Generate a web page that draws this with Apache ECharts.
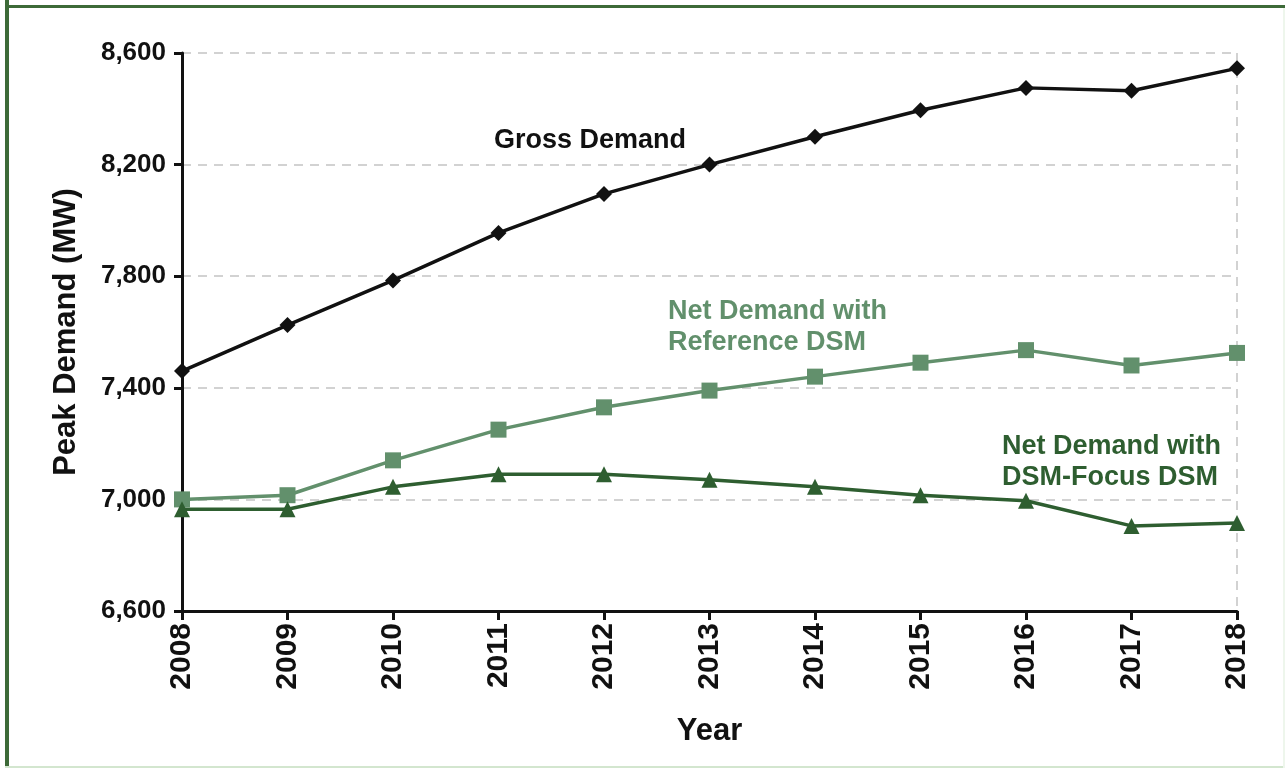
<!DOCTYPE html>
<html>
<head>
<meta charset="utf-8">
<title>Peak Demand Forecast</title>
<script src="https://cdn.jsdelivr.net/npm/echarts@6/dist/echarts.min.js"></script>
<style>
  html, body { margin: 0; padding: 0; background: #ffffff; }
  #chart { width: 1285px; height: 768px; }
</style>
</head>
<body>
<div id="chart"></div>
<script>
// Peak demand forecast, MW
const years = ['2008', '2009', '2010', '2011', '2012', '2013', '2014', '2015', '2016', '2017', '2018'];
const grossDemand = [7460, 7625, 7785, 7955, 8095, 8200, 8300, 8395, 8475, 8465, 8545];
const netReferenceDSM = [7000, 7015, 7140, 7250, 7330, 7390, 7440, 7490, 7535, 7480, 7525];
const netFocusDSM = [6965, 6965, 7045, 7090, 7090, 7070, 7045, 7015, 6995, 6905, 6915];

const yTicks = [6600, 7000, 7400, 7800, 8200, 8600];

const FONT = '"Liberation Sans", Arial, Helvetica, sans-serif';
const BLACK = '#111111';
const REF_GREEN = '#62906c';
const FOCUS_GREEN = '#2e5e30';
const FRAME_GREEN = '#3d6a38';

const chart = echarts.init(document.getElementById('chart'), null, { renderer: 'canvas' });

function lineSeries(name, data, color, symbol, size) {
  return {
    name: name,
    type: 'line',
    data: data,
    symbol: symbol,
    symbolSize: size,
    showAllSymbol: true,
    lineStyle: { color: color, width: 3.5 },
    itemStyle: { color: color, borderWidth: 0 },
    emphasis: { disabled: true },
    animation: false,
    z: 3
  };
}

function annotation(text, left, top, color) {
  return {
    type: 'text',
    left: left,
    top: top,
    z: 10,
    style: {
      text: text,
      fill: color,
      font: 'bold 27px ' + FONT,
      lineHeight: 31
    }
  };
}

const option = {
  backgroundColor: '#ffffff',
  animation: false,
  grid: { left: 182, right: 48, top: 53, bottom: 157, containLabel: false },
  xAxis: {
    type: 'category',
    data: years,
    boundaryGap: false,
    name: 'Year',
    nameLocation: 'middle',
    nameGap: 105,
    nameTextStyle: { fontFamily: FONT, fontWeight: 'bold', fontSize: 31, color: BLACK },
    axisLine: { show: true, lineStyle: { color: BLACK, width: 3 } },
    axisTick: { show: true, alignWithLabel: true, length: 9, lineStyle: { color: BLACK, width: 3 } },
    axisLabel: {
      rotate: 90,
      margin: 12,
      fontFamily: FONT,
      fontWeight: 'bold',
      fontSize: 30,
      color: BLACK
    },
    splitLine: {
      show: true,
      interval: function (index) { return index === years.length - 1; },
      lineStyle: { color: '#d2d2d2', width: 2, type: [9, 7] }
    }
  },
  yAxis: {
    type: 'value',
    min: yTicks[0],
    max: yTicks[yTicks.length - 1],
    interval: 400,
    name: 'Peak Demand (MW)',
    nameLocation: 'middle',
    nameRotate: 90,
    nameGap: 100,
    nameTextStyle: { fontFamily: FONT, fontWeight: 'bold', fontSize: 31, color: BLACK },
    axisLine: { show: true, lineStyle: { color: BLACK, width: 3 } },
    axisTick: { show: true, length: 8, lineStyle: { color: BLACK, width: 3 } },
    axisLabel: {
      margin: 16,
      fontFamily: FONT,
      fontWeight: 'bold',
      fontSize: 26,
      color: BLACK,
      formatter: function (v) { return v.toLocaleString('en-US'); }
    },
    splitLine: {
      show: true,
      lineStyle: { color: '#d2d2d2', width: 2, type: [9, 7] }
    }
  },
  series: [
    lineSeries('Gross Demand', grossDemand, BLACK, 'diamond', 16),
    lineSeries('Net Demand with Reference DSM', netReferenceDSM, REF_GREEN, 'rect', 16),
    lineSeries('Net Demand with DSM-Focus DSM', netFocusDSM, FOCUS_GREEN, 'triangle', 16)
  ],
  graphic: [
    // frame round the figure
    { type: 'rect', left: 5, top: 0, z: 20, shape: { width: 4, height: 768 }, style: { fill: FRAME_GREEN } },
    { type: 'rect', left: 5, top: 5, z: 20, shape: { width: 1280, height: 3 }, style: { fill: FRAME_GREEN } },
    { type: 'rect', left: 5, top: 766, z: 20, shape: { width: 1280, height: 2 }, style: { fill: '#d3e6cf' } },
    { type: 'rect', left: 1283, top: 8, z: 20, shape: { width: 2, height: 760 }, style: { fill: '#eef6ec' } },
    // series labels
    annotation('Gross Demand', 494, 125, BLACK),
    annotation('Net Demand with\nReference DSM', 668, 296, REF_GREEN),
    annotation('Net Demand with\nDSM-Focus DSM', 1002, 431, FOCUS_GREEN)
  ]
};

chart.setOption(option);
</script>
</body>
</html>
